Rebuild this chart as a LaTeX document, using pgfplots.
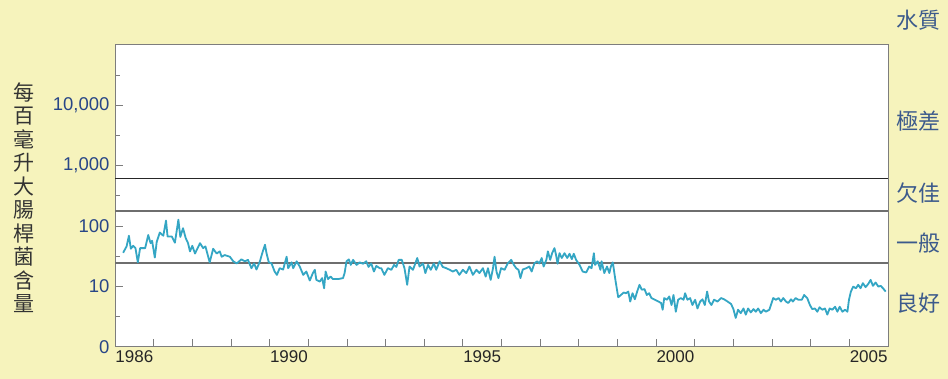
\documentclass[border=0pt]{standalone}
\usepackage{fontspec}
\setmainfont{Liberation Sans}
\newfontfamily\cjk{Noto Sans CJK TC}
\usepackage{pgfplots}
\pgfplotsset{compat=1.18}
\definecolor{bgyel}{RGB}{246,243,188}
\definecolor{linec}{RGB}{52,166,196}
\definecolor{tickblue}{RGB}{40,70,135}
\definecolor{labblue}{RGB}{60,90,140}
\definecolor{framegray}{RGB}{125,125,125}
\definecolor{thrgray}{RGB}{110,110,110}
\begin{document}
\begin{tikzpicture}
\fill[bgyel] (0,0) rectangle (948bp,379bp);
\useasboundingbox (0,0) rectangle (948bp,379bp);
\begin{axis}[
  at={(115bp,32.3bp)}, anchor=south west,
  scale only axis, width=773bp, height=301.7bp,
  ymode=log, xmin=1986, xmax=2006, ymin=1, ymax=100000,
  axis background/.style={fill=white},
  axis line style={framegray, line width=1bp},
  tick pos=left, tick align=inside,
  tick style={framegray, line width=0.8bp},
  major tick length=8bp, minor tick length=5bp,
  xtick={1987,1988,1989,1990,1991,1992,1993,1994,1995,1996,1997,1998,1999,2000,2001,2002,2003,2004,2005},
  xticklabels={,,,,,,,,,,,,,,,,,,,},
  extra x ticks={1986.5,1990.5,1995.5,2000.5,2005.5},
  extra x tick labels={1986,1990,1995,2000,2005},
  extra x tick style={major tick length=0pt, tick label style={font=\fontsize{17bp}{19bp}\selectfont, text=black!85}},
  ytick={1,10,100,1000,10000},
  yticklabels={0,10,100,{1,000},{10,000}},
  minor ytick={3.1623,31.623,316.23,3162.3,31623},
  yticklabel style={font=\fontsize{18.5bp}{20bp}\selectfont, text=tickblue, xshift=-2bp},
  clip=true,
]
\addplot[black!85, line width=1bp] coordinates {(1986,610) (2006,610)};
\addplot[thrgray, line width=2bp] coordinates {(1986,180) (2006,180)};
\addplot[thrgray, line width=2bp] coordinates {(1986,24) (2006,24)};
\addplot[linec, line width=1.8bp, line join=round] coordinates {
(1986.21,36) (1986.30,46) (1986.36,69) (1986.41,42) (1986.47,47) (1986.53,43) (1986.59,25) (1986.65,43) (1986.78,43) (1986.86,71)
(1986.92,52) (1986.96,57) (1987.03,30) (1987.08,55) (1987.16,78) (1987.25,69) (1987.32,123) (1987.36,67) (1987.47,67) (1987.55,53)
(1987.64,127) (1987.69,66) (1987.76,92) (1987.83,63) (1987.89,52) (1987.94,38) (1988.00,47) (1988.07,35) (1988.20,52) (1988.28,43)
(1988.34,46) (1988.45,25) (1988.54,42) (1988.63,35) (1988.71,38) (1988.76,31) (1988.84,33) (1988.97,31) (1989.06,26) (1989.15,24)
(1989.27,28) (1989.36,26) (1989.44,27.5) (1989.53,20) (1989.60,24) (1989.66,19) (1989.75,26) (1989.81,35.5) (1989.88,49) (1989.92,35.5)
(1989.98,25) (1990.05,24) (1990.13,17.6) (1990.19,15.5) (1990.26,20) (1990.35,19) (1990.44,31) (1990.48,20) (1990.57,25) (1990.61,20)
(1990.70,26) (1990.78,21.3) (1990.87,15.5) (1990.95,17.6) (1991.04,12.5) (1991.12,16.6) (1991.17,18.8) (1991.21,12.8) (1991.30,12) (1991.36,13.7)
(1991.41,9.3) (1991.45,17.6) (1991.51,13.2) (1991.58,14.5) (1991.64,13.2) (1991.77,13.2) (1991.90,13.7) (1991.94,16.6) (1991.99,26) (1992.05,28)
(1992.10,22.7) (1992.16,27.5) (1992.25,22.7) (1992.33,25) (1992.42,23.7) (1992.50,26) (1992.56,21) (1992.63,24) (1992.70,17.6) (1992.76,21.8)
(1992.85,20) (1992.89,20) (1992.97,15.5) (1993.06,20) (1993.15,18.8) (1993.22,22.7) (1993.28,21) (1993.34,27.5) (1993.42,27.5) (1993.49,20)
(1993.56,10.6) (1993.62,21.3) (1993.71,18.8) (1993.77,24) (1993.82,29.5) (1993.88,21.3) (1993.97,24) (1994.03,16.6) (1994.10,22.7) (1994.17,18.8)
(1994.25,24) (1994.31,18.8) (1994.40,26) (1994.48,21) (1994.57,20) (1994.66,18.8) (1994.74,17.6) (1994.83,18.8) (1994.91,15.5) (1995.00,18.8)
(1995.09,16.6) (1995.17,21.3) (1995.26,15.5) (1995.35,18.8) (1995.43,16.6) (1995.52,20) (1995.59,14.5) (1995.65,20) (1995.72,12.8) (1995.78,20)
(1995.82,31) (1995.87,17.6) (1995.92,13.7) (1995.99,20) (1996.08,18.8) (1996.16,24) (1996.25,27.5) (1996.32,22.7) (1996.38,20) (1996.44,18.8)
(1996.49,13.7) (1996.55,19) (1996.64,20) (1996.72,21.3) (1996.78,17.6) (1996.85,24) (1996.92,26) (1996.98,24) (1997.04,29.5) (1997.09,21.3)
(1997.16,27.5) (1997.20,38) (1997.26,27.5) (1997.31,35.5) (1997.37,43) (1997.41,33.5) (1997.45,23.7) (1997.50,35.5) (1997.56,29.5) (1997.63,35.5)
(1997.70,29.5) (1997.76,34.7) (1997.82,28.3) (1997.87,34.7) (1997.93,27.5) (1998.02,22.7) (1998.10,17.6) (1998.19,17) (1998.27,21.3) (1998.33,20)
(1998.39,35.5) (1998.42,22.7) (1998.49,26) (1998.56,18.8) (1998.59,26) (1998.66,16.6) (1998.73,21.3) (1998.79,16.6) (1998.83,21.3) (1998.88,25)
(1998.92,16.6) (1998.96,11.3) (1999.02,6.6) (1999.09,7.2) (1999.16,7.9) (1999.22,7.7) (1999.28,8.2) (1999.33,5.6) (1999.39,7.7) (1999.45,6.1)
(1999.51,8.2) (1999.57,10.6) (1999.63,8.8) (1999.70,9) (1999.76,7.2) (1999.82,7.7) (1999.88,6.4) (1999.97,6) (2000.06,5.6) (2000.13,5.3)
(2000.17,4.1) (2000.21,6.4) (2000.28,6) (2000.34,6.8) (2000.40,4.9) (2000.45,7.2) (2000.51,3.8) (2000.57,6) (2000.64,6.4) (2000.71,6)
(2000.75,7.7) (2000.81,6) (2000.88,6.4) (2000.94,4.9) (2001.01,6) (2001.07,4.3) (2001.14,5.6) (2001.20,6.1) (2001.26,4.9) (2001.32,8.2)
(2001.37,5.6) (2001.43,4.9) (2001.50,6) (2001.59,5.6) (2001.68,6.4) (2001.76,6.1) (2001.85,5.6) (2001.94,5.1) (2002.00,4.2) (2002.06,3.0)
(2002.12,4.1) (2002.19,3.6) (2002.26,4.3) (2002.32,3.4) (2002.38,4.3) (2002.45,3.7) (2002.52,4.2) (2002.58,3.8) (2002.64,4.3) (2002.71,3.6)
(2002.78,4.1) (2002.84,3.8) (2002.93,4.1) (2002.97,4.9) (2003.03,6.4) (2003.10,6) (2003.17,6.4) (2003.23,5.6) (2003.29,6.4) (2003.36,5.6)
(2003.42,5.3) (2003.49,6.1) (2003.54,5.6) (2003.61,6.4) (2003.68,6) (2003.77,6) (2003.83,7.2) (2003.91,6.4) (2003.98,4.9) (2004.04,4.2)
(2004.11,4.3) (2004.17,3.8) (2004.23,4.5) (2004.30,4.1) (2004.37,4.3) (2004.43,3.4) (2004.49,4.3) (2004.56,4.1) (2004.63,4.6) (2004.69,3.8)
(2004.75,4.6) (2004.82,3.8) (2004.89,4.1) (2004.95,3.8) (2004.99,6) (2005.04,8.2) (2005.10,9.9) (2005.17,9.3) (2005.23,10.6) (2005.29,9.3)
(2005.35,11.3) (2005.42,9.7) (2005.49,11) (2005.55,12.8) (2005.61,10.2) (2005.68,11.6) (2005.75,9.9) (2005.81,10.2) (2005.87,9.3) (2005.94,8.2)
};
\end{axis}
\begin{scope}[every node/.style={font=\cjk\fontsize{22bp}{24bp}\selectfont, text=labblue}]
\node at (918bp,359bp) {水質};
\node at (918bp,258bp) {極差};
\node at (918bp,186bp) {欠佳};
\node at (918bp,136bp) {一般};
\node at (918bp,76bp) {良好};
\end{scope}
\node[font=\cjk\fontsize{21bp}{23.5bp}\selectfont, align=center, text=black!80, inner sep=0pt] at (24bp,181.5bp) {每\\百\\毫\\升\\大\\腸\\桿\\菌\\含\\量};
\end{tikzpicture}
\end{document}
